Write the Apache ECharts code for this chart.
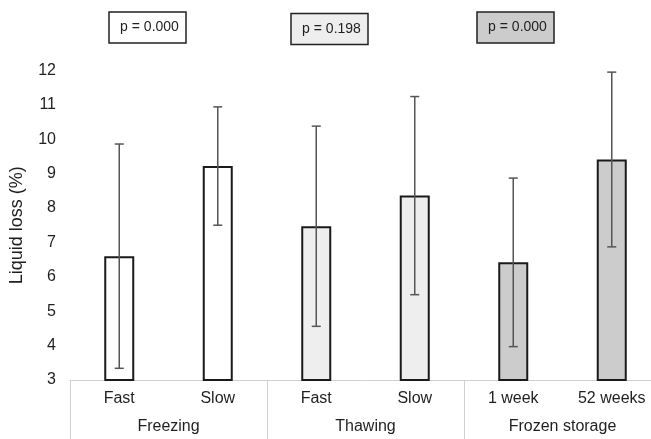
<!DOCTYPE html>
<html>
<head>
<meta charset="utf-8">
<script src="https://cdn.jsdelivr.net/npm/echarts@6/dist/echarts.min.js"></script>
<style>html,body{margin:0;padding:0;background:#fff;overflow:hidden;}#c{width:651px;height:439px;}</style>
</head>
<body>
<div id="c"></div>
<script>
var categories = ['Fast', 'Slow', 'Fast', 'Slow', '1 week', '52 weeks'];
var groups = ['Freezing', 'Thawing', 'Frozen storage'];
var groupOfCategory = [0, 0, 1, 1, 2, 2];
var means = [6.6, 9.22, 7.47, 8.36, 6.42, 9.41];
var errors = [3.26, 1.72, 2.91, 2.88, 2.45, 2.54];
var pValues = ['p = 0.000', 'p = 0.198', 'p = 0.000'];
var groupColors = ['#ffffff', '#eeeeee', '#cccccc'];
var yTicks = [3, 4, 5, 6, 7, 8, 9, 10, 11, 12];

var chart = echarts.init(document.getElementById('c'), null, {renderer: 'canvas'});
var font = 'Liberation Sans, Arial, sans-serif';

var barData = means.map(function (v, i) {
  return {value: v, itemStyle: {color: groupColors[groupOfCategory[i]]}};
});
var errData = means.map(function (v, i) { return [i, v, errors[i]]; });

var boxes = [
  {x: 109, y: 12, w: 77, h: 31},
  {x: 291, y: 13.5, w: 77, h: 31},
  {x: 477, y: 12, w: 77, h: 31}
];
var graphics = [];
boxes.forEach(function (b, i) {
  graphics.push({
    type: 'rect', shape: {x: b.x, y: b.y, width: b.w, height: b.h},
    style: {fill: groupColors[i], stroke: '#222', lineWidth: 1.5}, z: 10
  });
  graphics.push({
    type: 'text', x: b.x + b.w / 2 + 2, y: b.y + b.h / 2,
    style: {text: pValues[i], fill: '#1f1f1f', font: '14px ' + font, align: 'center', verticalAlign: 'middle'}, z: 11
  });
});

chart.setOption({
  animation: false,
  backgroundColor: '#fff',
  grid: {left: 70, top: 70.4, right: -10, height: 309.6, containLabel: false, outerBoundsMode: 'none'},
  xAxis: [
    {
      type: 'category', data: categories, position: 'bottom',
      axisLine: {show: true, lineStyle: {color: '#d0d0d0', width: 1}},
      axisTick: {show: false},
      axisLabel: {margin: 11, fontSize: 16, color: '#1f1f1f', fontFamily: font}
    },
    {
      type: 'category', data: groups, position: 'bottom', gridIndex: 0,
      axisLine: {show: false},
      axisTick: {show: true, length: 62, lineStyle: {color: '#d0d0d0', width: 1}},
      axisLabel: {margin: 39, fontSize: 16, color: '#1f1f1f', fontFamily: font}
    }
  ],
  yAxis: {
    type: 'value', min: yTicks[0], max: yTicks[yTicks.length - 1], interval: 1,
    name: 'Liquid loss (%)', nameLocation: 'middle', nameGap: 44,
    nameTextStyle: {fontSize: 18, color: '#1f1f1f', fontFamily: font},
    axisLine: {show: false}, axisTick: {show: false}, splitLine: {show: false},
    axisLabel: {margin: 14, fontSize: 16, color: '#1f1f1f', fontFamily: font}
  },
  series: [
    {
      type: 'bar', xAxisIndex: 0, data: barData, barWidth: 30,
      itemStyle: {borderColor: '#1a1a1a', borderWidth: 2}, z: 2
    },
    {
      type: 'custom', xAxisIndex: 0, data: errData, z: 5,
      renderItem: function (params, api) {
        var x = api.value(0), m = api.value(1), e = api.value(2);
        var hi = api.coord([x, m + e]);
        var lo = api.coord([x, m - e]);
        var cap = 4.5;
        var st = {stroke: '#555', lineWidth: 1.5};
        return {
          type: 'group',
          children: [
            {type: 'line', shape: {x1: hi[0], y1: hi[1], x2: lo[0], y2: lo[1]}, style: st},
            {type: 'line', shape: {x1: hi[0] - cap, y1: hi[1], x2: hi[0] + cap, y2: hi[1]}, style: st},
            {type: 'line', shape: {x1: lo[0] - cap, y1: lo[1], x2: lo[0] + cap, y2: lo[1]}, style: st}
          ]
        };
      }
    }
  ],
  graphic: graphics
});
</script>
</body>
</html>
